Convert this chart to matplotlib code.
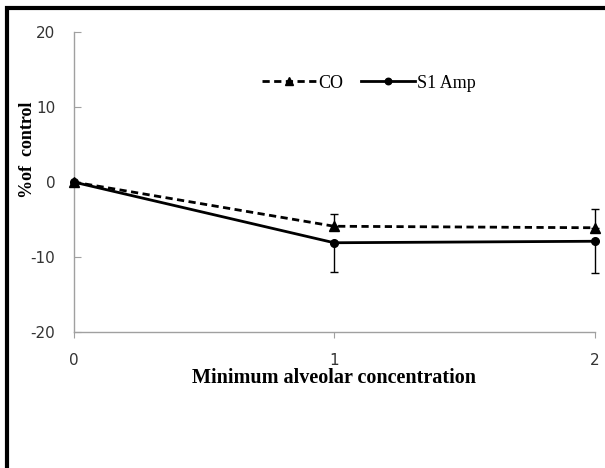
import matplotlib
matplotlib.use('Agg')
import matplotlib.pyplot as plt
from matplotlib.patches import Rectangle

plt.rcParams['axes.unicode_minus'] = False

# MAC levels and % of control values
mac = [0, 1, 2]
co = [0, -5.9, -6.1]
co_err_up = [0, 1.6, 2.5]
s1_amp = [0, -8.1, -7.9]
s1_err_down = [0, 3.9, 4.2]

fig = plt.figure(figsize=(6.05, 4.68), dpi=100)
ax = fig.add_axes([0.1215, 0.2906, 0.8615, 0.641])

# error bars (CO up only, S1 Amp down only)
for y, err in [(co, [[0, 0], co_err_up[1:]]), (s1_amp, [s1_err_down[1:], [0, 0]])]:
    eb = ax.errorbar(mac[1:], y[1:], yerr=err, fmt='none', ecolor='black',
                     elinewidth=1, capsize=3, capthick=1, zorder=2)
    for art in eb.get_children():
        art.set_clip_on(False)

ax.plot(mac, co, color='black', linestyle=(0, (2.6, 1.6)), linewidth=2,
        marker='^', markersize=7.5, label='CO', zorder=3, clip_on=False)
ax.plot(mac, s1_amp, color='black', linestyle='-', linewidth=2,
        marker='o', markersize=5.5, label='S1 Amp', zorder=3, clip_on=False)

ax.set_xlim(0, 2)
ax.set_ylim(-20, 20)
ax.set_xticks(mac)
ax.set_yticks([-20, -10, 0, 10, 20])

for s in ['top', 'right']:
    ax.spines[s].set_visible(False)
for s in ['left', 'bottom']:
    ax.spines[s].set_color('#a0a0a0')
    ax.spines[s].set_linewidth(1)

ax.tick_params(axis='y', direction='in', length=5, color='#a0a0a0',
               labelsize=11, labelcolor='#333333', pad=13)
ax.tick_params(axis='x', direction='out', length=4, color='#a0a0a0',
               labelsize=11, labelcolor='#333333', pad=11)

ax.set_xlabel('Minimum alveolar concentration', family='Liberation Serif',
              fontweight='bold', fontsize=14.5, labelpad=0)
ax.set_ylabel('%of  control', family='Liberation Serif',
              fontweight='bold', fontsize=13)
ax.yaxis.set_label_coords(-0.072, 0.607)

leg = ax.legend(loc='center', bbox_to_anchor=(0.567, 0.83), ncol=2, frameon=False,
                prop={'family': 'Liberation Serif', 'size': 13},
                handlelength=3.0, handletextpad=0.1, columnspacing=1.0,
                markerscale=0.85)

# outer black frame (cropped on right and bottom)
fig.patches.append(Rectangle((7 / 605, -0.2), 1.2, 1.2 - 8 / 468,
                             transform=fig.transFigure, fill=False,
                             edgecolor='black', linewidth=3, clip_on=False))

fig.savefig('out.png', dpi=100)
